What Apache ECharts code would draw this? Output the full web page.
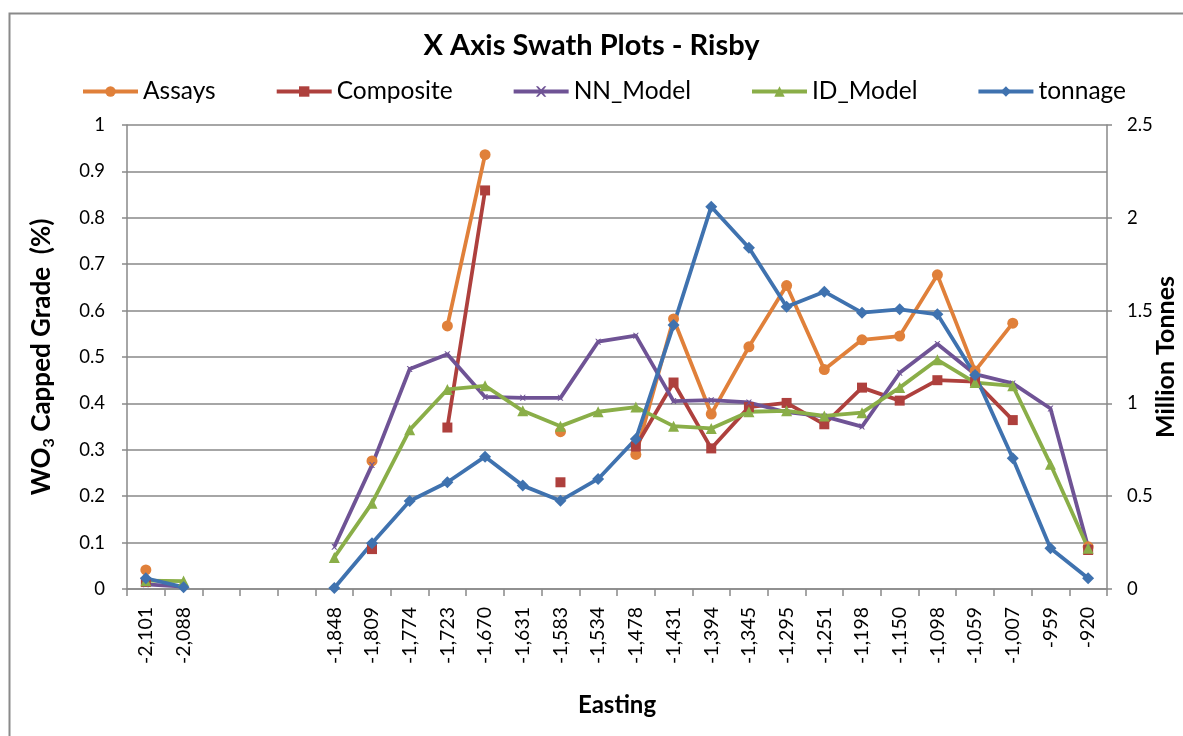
<!DOCTYPE html>
<html>
<head>
<meta charset="utf-8">
<script src="https://cdn.jsdelivr.net/npm/echarts@6/dist/echarts.min.js"></script>
<style>
html,body{margin:0;padding:0;background:#fff;}
#c{width:1183px;height:736px;}
</style>
</head>
<body>
<div id="c"></div>
<script>
const eastingLabels = ['-2,101','-2,088','','','','-1,848','-1,809','-1,774','-1,723','-1,670','-1,631','-1,583','-1,534','-1,478','-1,431','-1,394','-1,345','-1,295','-1,251','-1,198','-1,150','-1,098','-1,059','-1,007','-959','-920'];
const assays    = [0.041, null, null, null, null, null, 0.276, null, 0.567, 0.936, null, 0.339, null, 0.290, 0.582, 0.377, 0.522, 0.654, 0.473, 0.537, 0.545, 0.677, 0.470, 0.573, null, 0.091];
const composite = [0.015, null, null, null, null, null, 0.086, null, 0.348, 0.859, null, 0.230, null, 0.307, 0.445, 0.303, 0.392, 0.401, 0.355, 0.434, 0.406, 0.450, 0.447, 0.364, null, 0.084];
const nnModel   = [0.010, 0.005, null, null, null, 0.091, 0.267, 0.474, 0.506, 0.414, 0.412, 0.412, 0.533, 0.546, 0.405, 0.407, 0.402, 0.381, 0.372, 0.350, 0.466, 0.528, 0.463, 0.443, 0.389, 0.090];
const idModel   = [0.018, 0.017, null, null, null, 0.068, 0.185, 0.343, 0.430, 0.438, 0.384, 0.351, 0.382, 0.392, 0.351, 0.346, 0.382, 0.384, 0.373, 0.380, 0.434, 0.494, 0.445, 0.438, 0.269, 0.088];
const tonnage   = [0.058, 0.010, null, null, null, 0.005, 0.246, 0.474, 0.575, 0.713, 0.557, 0.476, 0.593, 0.808, 1.422, 2.060, 1.839, 1.521, 1.602, 1.489, 1.507, 1.480, 1.153, 0.704, 0.219, 0.058];

const FONT = 'Lato, "Noto Sans", sans-serif';
const GRID = '#898989';
const cats = eastingLabels.map((_, i) => String(i));

function mk(name, data, color, symbol, size, yIdx) {
  return {
    name: name, type: 'line', data: data, yAxisIndex: yIdx || 0,
    symbol: symbol, symbolSize: size, showAllSymbol: true,
    connectNulls: false,
    lineStyle: { color: color, width: 3.8 },
    itemStyle: { color: color },
    emphasis: { disabled: true },
    animation: false
  };
}

const chart = echarts.init(document.getElementById('c'), null, { renderer: 'canvas' });
chart.setOption({
  backgroundColor: '#fff',
  animation: false,
  graphic: [{
    type: 'rect', left: 7, top: 11, silent: true,
    shape: { x: 0, y: 0, width: 1300, height: 800 },
    style: { fill: 'none', stroke: '#8a8a8a', lineWidth: 2 }
  }],
  title: {
    text: 'X Axis Swath Plots - Risby',
    left: 'center', top: 26,
    textStyle: { fontFamily: FONT, fontWeight: 'bold', fontSize: 29, color: '#000' }
  },
  legend: {
    left: 76, top: 74,
    itemWidth: 55, itemHeight: 13, itemGap: 59,
    lineStyle: { width: 4 },
    textStyle: { fontFamily: FONT, fontSize: 24.5, color: '#000' },
    data: ['Assays', 'Composite', 'NN_Model', 'ID_Model', 'tonnage']
  },
  grid: { left: 127, right: 76, top: 125, bottom: 147, containLabel: false, outerBoundsMode: 'none' },
  xAxis: {
    type: 'category', data: cats, boundaryGap: true,
    name: 'Easting', nameLocation: 'middle', nameGap: 104, nameMoveOverlap: false,
    nameTextStyle: { fontFamily: FONT, fontWeight: 'bold', fontSize: 24, color: '#000' },
    axisLine: { lineStyle: { color: GRID, width: 1.5 } },
    axisTick: { show: true, length: 7, lineStyle: { color: GRID, width: 1.5 }, interval: 0 },
    axisLabel: {
      interval: 0, rotate: 90, margin: 18,
      fontFamily: FONT, fontSize: 19.5, color: '#000',
      formatter: (v, i) => eastingLabels[i]
    },
    splitLine: { show: false }
  },
  yAxis: [{
    type: 'value', min: 0, max: 1, interval: 0.1, position: 'left',
    name: '{a|WO}{s|3}{a| Capped Grade  (%)}', nameLocation: 'middle', nameGap: 70, nameRotate: 90, nameMoveOverlap: false,
    nameTextStyle: {
      rich: {
        a: { fontFamily: FONT, fontWeight: 'bold', fontSize: 26, color: '#000', lineHeight: 30 },
        s: { fontFamily: FONT, fontWeight: 'bold', fontSize: 16, color: '#000', lineHeight: 16, verticalAlign: 'bottom' }
      }
    },
    axisLine: { show: true, lineStyle: { color: GRID, width: 1.5 } },
    axisTick: { show: true, length: 5, lineStyle: { color: GRID, width: 1.5 } },
    axisLabel: { margin: 22, fontFamily: FONT, fontSize: 18.5, color: '#000', formatter: v => String(Math.round(v * 10) / 10) },
    splitLine: { show: true, lineStyle: { color: GRID, width: 1.5 } }
  }, {
    type: 'value', min: 0, max: 2.5, interval: 0.5, position: 'right',
    name: 'Million Tonnes', nameLocation: 'middle', nameGap: 46, nameRotate: 90, nameMoveOverlap: false,
    nameTextStyle: { fontFamily: FONT, fontWeight: 'bold', fontSize: 25, color: '#000' },
    axisLine: { show: true, lineStyle: { color: GRID, width: 1.5 } },
    axisTick: { show: true, length: 5, lineStyle: { color: GRID, width: 1.5 } },
    axisLabel: { margin: 20, fontFamily: FONT, fontSize: 18.5, color: '#000', formatter: v => String(Math.round(v * 10) / 10) },
    splitLine: { show: false }
  }],
  series: [
    mk('Assays', assays, '#E0803A', 'circle', 11),
    mk('Composite', composite, '#AE403D', 'rect', 10),
    mk('NN_Model', nnModel, '#6F5395', 'path://M0,0L2,0L5,3L8,0L10,0L6,5L10,10L8,10L5,7L2,10L0,10L4,5Z', 6),
    mk('ID_Model', idModel, '#8AAE48', 'triangle', 11),
    mk('tonnage', tonnage, '#3F72AF', 'diamond', 12, 1)
  ]
});
</script>
</body>
</html>
